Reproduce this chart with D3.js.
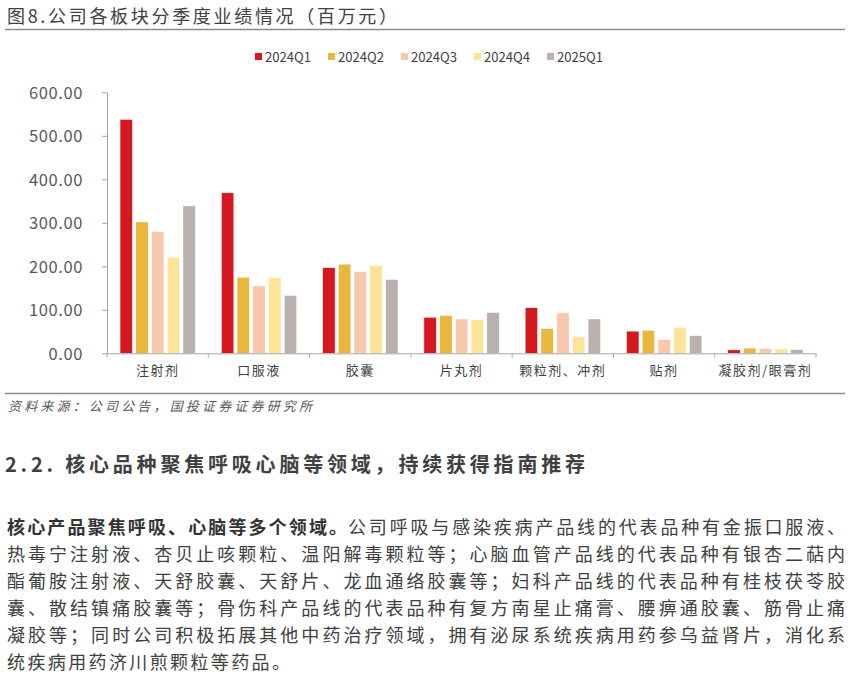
<!DOCTYPE html>
<html>
<head>
<meta charset="utf-8">
<title>图8 公司各板块分季度业绩情况</title>
<script src="https://cdn.jsdelivr.net/npm/d3@7"></script>
<style>
  body { margin: 0; background: #fff; }
  svg text { font-family: "Noto Sans CJK SC", sans-serif; }
</style>
</head>
<body>
<svg id="chart" width="850" height="677"></svg>

<script>
// data (百万元)
var categories = ['注射剂', '口服液', '胶囊', '片丸剂', '颗粒剂、冲剂', '贴剂', '凝胶剂/眼膏剂'];
var seriesNames = ['2024Q1', '2024Q2', '2024Q3', '2024Q4', '2025Q1'];
var q2024q1 = [538, 369, 197, 83, 105, 51, 8];
var q2024q2 = [302, 175, 205, 87, 57, 53, 12];
var q2024q3 = [280, 155, 188, 79, 93, 32, 11];
var q2024q4 = [221, 175, 201, 77, 38, 60, 10];
var q2025q1 = [339, 133, 170, 94, 79, 41, 9];
var yTicks = [0, 100, 200, 300, 400, 500, 600];
var colors = ['#d3181f', '#e9b73c', '#f7c8ae', '#fee499', '#bab0af'];

var titleText = '图8.公司各板块分季度业绩情况（百万元）';
var sourceText = '资料来源：公司公告，国投证券证券研究所';
var headingText = '2.2. 核心品种聚焦呼吸心脑等领域，持续获得指南推荐';
var paraBold = '核心产品聚焦呼吸、心脑等多个领域。';
var paraLines = [
  '公司呼吸与感染疾病产品线的代表品种有金振口服液、',
  '热毒宁注射液、杏贝止咳颗粒、温阳解毒颗粒等；心脑血管产品线的代表品种有银杏二萜内',
  '酯葡胺注射液、天舒胶囊、天舒片、龙血通络胶囊等；妇科产品线的代表品种有桂枝茯苓胶',
  '囊、散结镇痛胶囊等；骨伤科产品线的代表品种有复方南星止痛膏、腰痹通胶囊、筋骨止痛',
  '凝胶等；同时公司积极拓展其他中药治疗领域，拥有泌尿系统疾病用药参乌益肾片，消化系',
  '统疾病用药济川煎颗粒等药品。'
];

var values = [q2024q1, q2024q2, q2024q3, q2024q4, q2025q1];
var data = categories.map((c, i) => ({
  cat: c,
  vals: seriesNames.map((s, j) => ({ key: s, value: values[j][i], idx: j }))
}));

var svg = d3.select('#chart');

// header
svg.append('text')
  .attr('x', 7).attr('y', 23)
  .attr('font-size', 18).attr('fill', '#404040')
  .attr('textLength', 390).attr('lengthAdjust', 'spacing')
  .text(titleText);

svg.append('line')
  .attr('x1', 5).attr('x2', 845).attr('y1', 29.5).attr('y2', 29.5)
  .attr('stroke', '#8c8c8c').attr('stroke-width', 1.5);

// scales
var x0 = d3.scaleBand().domain(categories).range([107, 816]).padding(0);
var x1 = d3.scaleBand().domain(seriesNames).range([13, 88.5]).paddingInner(0.2);
var y = d3.scaleLinear().domain([0, 600]).range([353.3, 92.3]);

// y axis
var yAxis = svg.append('g')
  .attr('transform', 'translate(107,0)')
  .call(d3.axisLeft(y).tickValues(yTicks).tickFormat(d3.format('.2f')).tickSize(5).tickSizeOuter(0).tickPadding(19));
yAxis.select('.domain').attr('stroke', '#a6a6a6');
yAxis.selectAll('.tick line').attr('stroke', '#a6a6a6');
yAxis.selectAll('.tick text')
  .attr('font-family', '"Liberation Sans", Arial, sans-serif')
  .attr('font-size', 16.5).attr('fill', '#595959')
  .attr('letter-spacing', 0.6)
  .attr('dy', '0.36em');

// bars
var groups = svg.append('g').selectAll('g')
  .data(data)
  .join('g')
  .attr('transform', d => 'translate(' + x0(d.cat) + ',0)');

groups.selectAll('rect')
  .data(d => d.vals)
  .join('rect')
  .attr('x', d => x1(d.key))
  .attr('y', d => y(d.value))
  .attr('width', x1.bandwidth())
  .attr('height', d => y(0) - y(d.value))
  .attr('fill', d => colors[d.idx])
  .attr('stroke', '#fff')
  .attr('stroke-width', 0.6);

// x axis
var xAxis = svg.append('g')
  .attr('transform', 'translate(0,' + y(0) + ')')
  .call(d3.axisBottom(x0).tickSize(0).tickSizeOuter(0).tickPadding(12));
xAxis.select('.domain').attr('stroke', '#a6a6a6');
xAxis.selectAll('.tick text')
  .attr('font-size', 13).attr('fill', '#404040')
  .attr('letter-spacing', 1.5);

var bounds = categories.map(c => x0(c)).concat([x0.range()[1]]);
xAxis.selectAll('line.bound')
  .data(bounds)
  .join('line')
  .attr('class', 'bound')
  .attr('x1', d => d).attr('x2', d => d)
  .attr('y1', 0).attr('y2', 4)
  .attr('stroke', '#a6a6a6');

// legend
var legend = svg.append('g').selectAll('g')
  .data(seriesNames)
  .join('g')
  .attr('transform', (d, i) => 'translate(' + (255 + i * 73) + ',53)');
legend.append('rect')
  .attr('width', 7).attr('height', 7)
  .attr('fill', (d, i) => colors[i]);
legend.append('text')
  .attr('x', 10).attr('y', 8.5)
  .attr('font-family', '"Liberation Sans", Arial, sans-serif')
  .attr('font-size', 13.5).attr('fill', '#404040')
  .attr('textLength', 46).attr('lengthAdjust', 'spacingAndGlyphs')
  .text(d => d);

// footer of the figure
svg.append('line')
  .attr('x1', 5).attr('x2', 845).attr('y1', 393.5).attr('y2', 393.5)
  .attr('stroke', '#8c8c8c').attr('stroke-width', 1.5);

svg.append('text')
  .attr('x', 8).attr('y', 411)
  .attr('font-size', 13).attr('font-style', 'italic').attr('fill', '#595959')
  .attr('textLength', 304).attr('lengthAdjust', 'spacing')
  .text(sourceText);

// section heading
svg.append('text')
  .attr('x', 5).attr('y', 471.5)
  .attr('font-size', 20).attr('font-weight', 'bold').attr('fill', '#404040')
  .attr('textLength', 580).attr('lengthAdjust', 'spacing')
  .text(headingText);

// paragraph
var lineY = i => 533.5 + i * 27;
svg.append('text')
  .attr('x', 7).attr('y', lineY(0))
  .attr('font-size', 18).attr('font-weight', 'bold').attr('fill', '#333')
  .attr('textLength', 340).attr('lengthAdjust', 'spacing')
  .text(paraBold);

svg.append('g').selectAll('text')
  .data(paraLines)
  .join('text')
  .attr('x', (d, i) => i === 0 ? 348 : 7)
  .attr('y', (d, i) => lineY(i))
  .attr('font-size', 18).attr('fill', '#404040')
  .attr('textLength', (d, i) => i === 0 ? 497 : (i === paraLines.length - 1 ? 283 : 838))
  .attr('lengthAdjust', 'spacing')
  .text(d => d);
</script>
</body>
</html>
